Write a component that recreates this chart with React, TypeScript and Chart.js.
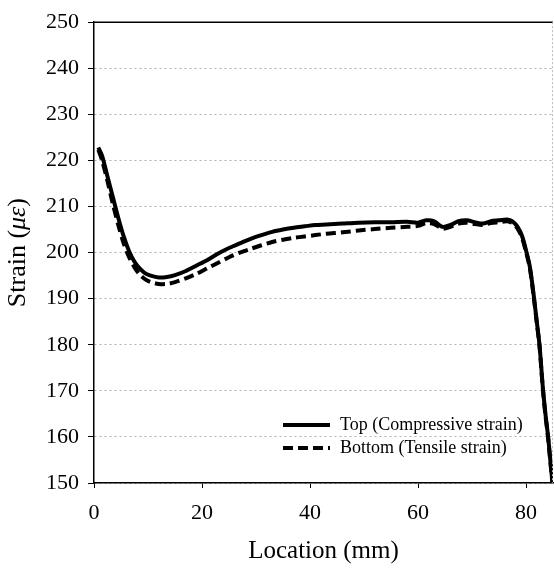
import React, { useEffect, useRef } from "react";
import { Chart, registerables } from "chart.js";

Chart.register(...registerables);

const xTicks = [0, 20, 40, 60, 80];
const yTicksMin = 150;
const yTicksMax = 250;

const topX = [0.8, 1.5, 2.5, 3.5, 4.5, 5.5, 6.5, 7.5, 8.5, 9.5, 10.5, 12, 13.5, 15, 17, 19, 21, 23, 25, 27, 29, 31, 33, 35, 37, 39, 41, 43, 46, 49, 52, 55, 58, 60, 61.5, 63, 64.5, 66, 67.5, 69, 70.5, 72, 73.5, 75, 76.5, 77.5, 78.5, 79.3, 80, 80.7, 81.4, 82, 82.5, 83.1, 83.6, 84.1, 84.5, 84.9];
const topY = [222.8, 221, 216.5, 212, 207.5, 203.5, 200.3, 198, 196.5, 195.5, 195, 194.6, 194.7, 195.1, 196, 197.2, 198.4, 199.8, 201, 202, 203, 203.8, 204.5, 205, 205.4, 205.7, 206, 206.1, 206.3, 206.5, 206.6, 206.6, 206.7, 206.5, 207, 206.8, 205.6, 206, 206.8, 207, 206.6, 206.3, 206.8, 207, 207.2, 206.8, 205.5, 203.5, 200.5, 197, 191, 185, 180, 171, 165, 160, 155, 150];

const bottomX = [0.8, 1.5, 2.5, 3.5, 4.5, 5.5, 6.5, 7.5, 8.5, 9.5, 10.5, 12, 13.5, 15, 17, 19, 21, 23, 25, 27, 29, 31, 33, 35, 37, 39, 41, 43, 46, 49, 52, 55, 58, 60, 61.5, 63, 64.5, 66, 67.5, 69, 70.5, 72, 73.5, 75, 76.5, 77.5, 78.5, 79.3, 80, 80.7, 81.4, 82, 82.5, 83.1, 83.6, 84.1, 84.5, 84.9];
const bottomY = [222.3, 220, 215.5, 210.5, 206, 202, 199, 196.8, 195.2, 194.2, 193.6, 193.2, 193.2, 193.6, 194.4, 195.4, 196.6, 197.8, 199, 200, 200.8, 201.6, 202.3, 202.8, 203.2, 203.5, 203.8, 204.1, 204.4, 204.8, 205.1, 205.4, 205.6, 205.8, 206.4, 206.2, 205.2, 205.6, 206.3, 206.5, 206.2, 206, 206.4, 206.6, 206.8, 206.4, 205.1, 203.1, 200.2, 196.7, 190.7, 184.7, 179.7, 170.7, 164.7, 159.7, 154.7, 149.8];

const seriesLabels = ["Top (Compressive strain)", "Bottom (Tensile strain)"];
const xTitle = "Location (mm)";
const yTitleParts = [
  { text: "Strain (", italic: false },
  { text: "με", italic: true },
  { text: ")", italic: false },
];

const FONT = "'Liberation Serif', 'Times New Roman', serif";

const frameAndLegend = {
  id: "frameAndLegend",
  afterDraw(chart: any) {
    const { ctx, chartArea } = chart;
    ctx.save();
    // top border
    ctx.strokeStyle = "#000";
    ctx.lineWidth = 1.5;
    ctx.beginPath();
    ctx.moveTo(chartArea.left, chartArea.top);
    ctx.lineTo(chartArea.right, chartArea.top);
    ctx.stroke();
    // right border (faint dotted)
    ctx.strokeStyle = "#bbb";
    ctx.lineWidth = 1;
    ctx.setLineDash([2, 2]);
    ctx.beginPath();
    ctx.moveTo(chartArea.right - 0.5, chartArea.top);
    ctx.lineTo(chartArea.right - 0.5, chartArea.bottom);
    ctx.stroke();
    ctx.setLineDash([]);

    // legend
    const lx0 = chartArea.right - 270;
    const lx1 = chartArea.right - 223;
    const tx = chartArea.right - 213;
    const ys = [chartArea.bottom - 58, chartArea.bottom - 35];
    chart.data.datasets.forEach((ds: any, i: number) => {
      ctx.strokeStyle = "#000";
      ctx.lineWidth = 4;
      ctx.setLineDash(ds.borderDash || []);
      ctx.beginPath();
      ctx.moveTo(lx0, ys[i]);
      ctx.lineTo(lx1, ys[i]);
      ctx.stroke();
      ctx.setLineDash([]);
      ctx.fillStyle = "#000";
      ctx.font = `18px ${FONT}`;
      ctx.textBaseline = "middle";
      ctx.textAlign = "left";
      ctx.fillText(ds.label, tx, ys[i]);
    });

    // y title
    const cy = (chartArea.top + chartArea.bottom) / 2;
    ctx.translate(18, cy);
    ctx.rotate(-Math.PI / 2);
    let total = 0;
    const widths = yTitleParts.map((p) => {
      ctx.font = `${p.italic ? "italic " : ""}26px ${FONT}`;
      const w = ctx.measureText(p.text).width;
      total += w;
      return w;
    });
    let x = -total / 2;
    ctx.textBaseline = "middle";
    ctx.textAlign = "left";
    yTitleParts.forEach((p, i) => {
      ctx.font = `${p.italic ? "italic " : ""}26px ${FONT}`;
      ctx.fillText(p.text, x, 0);
      x += widths[i];
    });
    ctx.restore();
  },
};

export default function App() {
  const ref = useRef<HTMLCanvasElement>(null);
  useEffect(() => {
    if (!ref.current) return;
    const chart = new Chart(ref.current, {
      type: "line",
      data: {
        datasets: [
          {
            label: seriesLabels[0],
            data: topX.map((x, i) => ({ x, y: topY[i] })),
            borderColor: "#000",
            borderWidth: 4,
            pointRadius: 0,
            tension: 0.3,
            fill: false,
          },
          {
            label: seriesLabels[1],
            data: bottomX.map((x, i) => ({ x, y: bottomY[i] })),
            borderColor: "#000",
            borderWidth: 4,
            borderDash: [10, 5],
            pointRadius: 0,
            tension: 0.3,
            fill: false,
          },
        ],
      },
      options: {
        animation: false,
        responsive: false,
        layout: { padding: { top: 14, right: 1, left: 0, bottom: 0 } },
        plugins: { legend: { display: false }, tooltip: { enabled: false } },
        scales: {
          x: {
            type: "linear",
            min: 0,
            max: 85,
            afterBuildTicks: (scale: any) => {
              scale.ticks = xTicks.map((v) => ({ value: v }));
            },
            afterFit: (scale: any) => {
              scale.height = 88;
            },
            grid: {
              drawOnChartArea: false,
              drawTicks: true,
              tickLength: 5,
              tickColor: "#000",
            },
            border: { display: true, color: "#000", width: 1.5 },
            ticks: {
              color: "#000",
              font: { family: FONT, size: 22 },
              padding: 12,
              maxRotation: 0,
            },
            title: {
              display: true,
              text: xTitle,
              color: "#000",
              font: { family: FONT, size: 25 },
              padding: { top: 0, bottom: 5 },
            },
          },
          y: {
            type: "linear",
            min: yTicksMin,
            max: yTicksMax,
            ticks: {
              stepSize: 10,
              color: "#000",
              font: { family: FONT, size: 22 },
              padding: 9,
            },
            afterFit: (scale: any) => {
              scale.width = 94;
            },
            grid: {
              color: "#b0b0b0",
              lineWidth: 1,
              drawTicks: true,
              tickLength: 6,
              tickColor: "#000",
              tickBorderDash: [],
            },
            border: { display: true, color: "#000", width: 1.5, dash: [2, 3] },
          },
        },
      },
      plugins: [frameAndLegend],
    } as any);
    return () => chart.destroy();
  }, []);
  return (
    <div style={{ position: "absolute", left: 0, top: 0, width: 554, height: 571, background: "#fff" }}>
      <canvas ref={ref} width={554} height={571} />
    </div>
  );
}
